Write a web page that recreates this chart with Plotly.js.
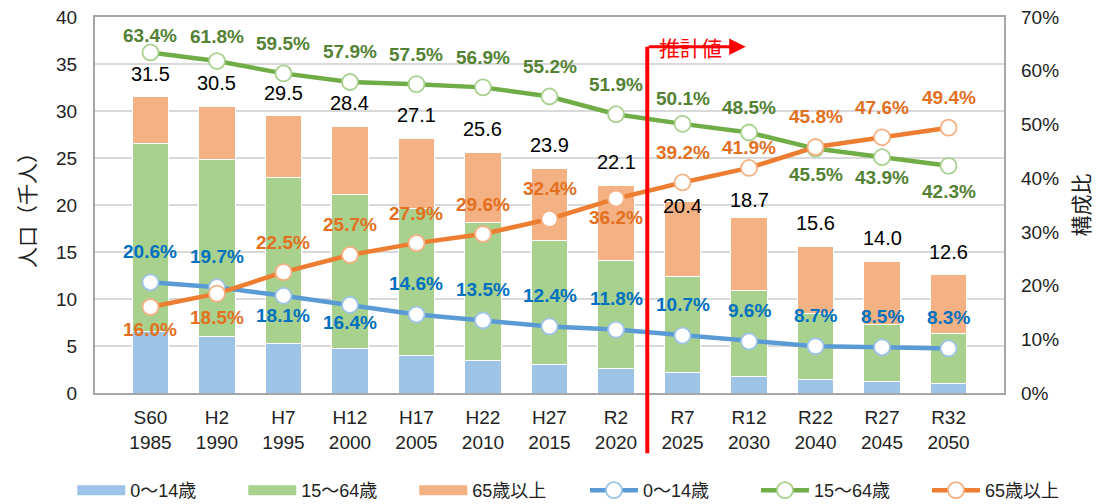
<!DOCTYPE html>
<html><head><meta charset="utf-8">
<script src="https://cdn.plot.ly/plotly-3.0.1.min.js"></script>
<style>html,body{margin:0;padding:0;background:#fff}#chart{width:1102px;height:504px}</style>
</head><body><div id="chart"></div>
<script>
const categories = ["S60<br>1985","H2<br>1990","H7<br>1995","H12<br>2000","H17<br>2005","H22<br>2010","H27<br>2015","R2<br>2020","R7<br>2025","R12<br>2030","R22<br>2040","R27<br>2045","R32<br>2050"];
const totals   = [31.5, 30.5, 29.5, 28.4, 27.1, 25.6, 23.9, 22.1, 20.4, 18.7, 15.6, 14.0, 12.6];
const pop0_14  = [6.5, 6.0, 5.3, 4.7, 4.0, 3.5, 3.0, 2.6, 2.2, 1.8, 1.4, 1.2, 1.0];
const pop15_64 = [20.0, 18.8, 17.6, 16.4, 15.6, 14.6, 13.2, 11.5, 10.2, 9.1, 7.1, 6.1, 5.3];
const pop65    = [5.0, 5.7, 6.6, 7.3, 7.5, 7.5, 7.7, 8.0, 8.0, 7.8, 7.1, 6.7, 6.3];
const pct0_14  = [20.6, 19.7, 18.1, 16.4, 14.6, 13.5, 12.4, 11.8, 10.7, 9.6, 8.7, 8.5, 8.3];
const pct15_64 = [63.4, 61.8, 59.5, 57.9, 57.5, 56.9, 55.2, 51.9, 50.1, 48.5, 45.5, 43.9, 42.3];
const pct65    = [16.0, 18.5, 22.5, 25.7, 27.9, 29.6, 32.4, 36.2, 39.2, 41.9, 45.8, 47.6, 49.4];
const seriesNames = ["0〜14歳", "15〜64歳", "65歳以上"];

const FONT = "'Liberation Sans','Noto Sans CJK JP',sans-serif";
const CJK = "'Noto Sans CJK JP',sans-serif";
const barColors = ["#9DC3E6", "#A9D18E", "#F4B183"];
const lineColors = ["#5B9BD5", "#70AD47", "#ED7D31"];
const markerEdge = ["#9DC3E6", "#A9D18E", "#F4B183"];
const labelColors = ["#0070C0", "#548235", "#E2701F"];

const traces = [];
seriesNames.forEach((n, k) => traces.push({
  x: [null], y: [null], type: "scatter", mode: "lines", name: n, legend: "legend",
  line: {color: barColors[k], width: 13}, hoverinfo: "skip", showlegend: true
}));
[pop0_14, pop15_64, pop65].forEach((v, k) => traces.push({
  x: categories, y: v, type: "bar", name: seriesNames[k], showlegend: false,
  marker: {color: barColors[k], line: {color: "#ffffff", width: 1}}
}));
[pct0_14, pct15_64, pct65].forEach((v, k) => traces.push({
  x: categories, y: v, yaxis: "y2", type: "scatter", mode: "lines+markers", name: seriesNames[k],
  legend: "legend2",
  line: {color: lineColors[k], width: 4.5},
  marker: {size: 16, color: "#ffffff", line: {color: markerEdge[k], width: 1.8}}
}));

const annotations = [];
const totalShift = {8: -5, 9: 17};
totals.forEach((t, i) => annotations.push({
  x: categories[i], y: t, xref: "x", yref: "y", text: t.toFixed(1), showarrow: false,
  yshift: (i in totalShift) ? totalShift[i] : 23,
  font: {family: FONT, size: 20, color: "#000"}
}));
const pctSets = [pct0_14, pct15_64, pct65];
const shifts = [
  {2: -20, 3: -18},
  {0: 17, 1: 25, 8: 25, 9: 25, 10: -26, 11: -20, 12: -26},
  {0: -22, 1: -24, 7: -19, 9: 20}
];
const defaults = [31, 30, 30];
pctSets.forEach((arr, k) => arr.forEach((p, i) => annotations.push({
  x: categories[i], y: p, xref: "x", yref: "y2", text: p.toFixed(1) + "%", showarrow: false,
  yshift: (i in shifts[k]) ? shifts[k][i] : defaults[k],
  font: {family: FONT, size: 19, color: labelColors[k], weight: "bold"}
})));
annotations.push({
  x: 8.95, y: 0.921, xref: "x", yref: "paper", ax: 7.47, ay: 0.921, axref: "x", ayref: "paper",
  text: "", showarrow: true, arrowhead: 2, arrowsize: 1.1, arrowwidth: 3, arrowcolor: "#FF0000"
});
annotations.push({
  x: 8.12, y: 0.965, xref: "x", yref: "paper", text: "推計値", showarrow: false,
  font: {family: CJK, size: 21, color: "#FF0000"}
});

const legendBase = {
  orientation: "h", xanchor: "left", y: -0.21, yanchor: "top",
  itemwidth: 48, entrywidth: 108, font: {family: FONT, size: 18, color: "#222"},
  traceorder: "normal", bgcolor: "rgba(0,0,0,0)"
};

const layout = {
  width: 1102, height: 504,
  margin: {l: 95, r: 98, t: 17, b: 111, autoexpand: false},
  paper_bgcolor: "#fff", plot_bgcolor: "#fff",
  barmode: "stack", bargap: 0.45,
  font: {family: FONT, size: 19, color: "#000"},
  xaxis: {
    type: "category", showline: true, linecolor: "#A6A6A6", linewidth: 2, mirror: true,
    ticks: "", ticklabelstandoff: 6, tickfont: {family: FONT, size: 19, color: "#222"}, showgrid: false
  },
  yaxis: {
    range: [0, 40], dtick: 5, showgrid: true, gridcolor: "#D9D9D9", gridwidth: 1.5,
    showline: true, linecolor: "#A6A6A6", linewidth: 2, mirror: true, zeroline: false,
    ticks: "", ticklabelstandoff: 12, tickfont: {family: FONT, size: 19, color: "#222"},
    title: {text: "人口（千人）", standoff: 15, font: {family: CJK, size: 21, color: "#222"}}
  },
  yaxis2: {
    range: [0, 70], dtick: 10, ticksuffix: "%", overlaying: "y", side: "right",
    showgrid: false, zeroline: false, showline: false, ticks: "", ticklabelstandoff: 16,
    tickfont: {family: FONT, size: 19, color: "#222"},
    title: {text: "構成比", standoff: 16, font: {family: CJK, size: 21, color: "#222"}}
  },
  legend: Object.assign({}, legendBase, {x: -0.025}),
  legend2: Object.assign({}, legendBase, {x: 0.539}),
  shapes: [{
    type: "line", xref: "x", yref: "paper", x0: 7.47, x1: 7.47, y0: -0.16, y1: 0.921,
    line: {color: "#FF0000", width: 4}, layer: "above"
  }],
  annotations: annotations
};

Plotly.newPlot("chart", traces, layout, {displayModeBar: false, staticPlot: true});
</script></body></html>
